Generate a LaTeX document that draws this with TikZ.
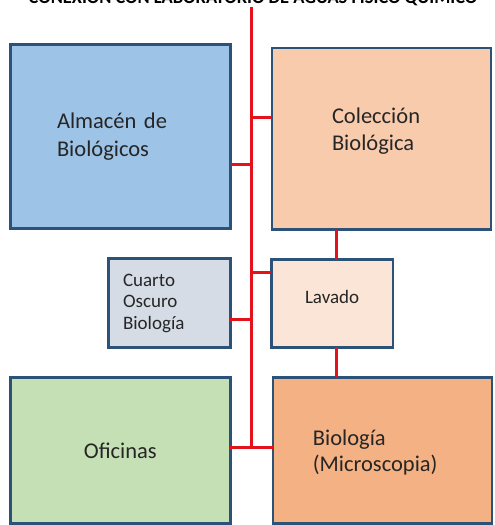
\documentclass[tikz,border=0pt]{standalone}
\usepackage{fontspec}
\setmainfont{Carlito}
\usetikzlibrary{positioning}

\definecolor{borde}{HTML}{2D5278}
\definecolor{rojo}{HTML}{E3121B}
\definecolor{azul}{HTML}{9DC3E6}
\definecolor{salmon}{HTML}{F8CBAD}
\definecolor{rosa}{HTML}{FBE5D6}
\definecolor{gris}{HTML}{D6DCE5}
\definecolor{verde}{HTML}{C5E0B4}
\definecolor{naranja}{HTML}{F4B183}

\tikzset{
  sala/.style={draw=borde, line width=2.5pt, rectangle, outer sep=0pt, anchor=north west, text=black!85},
  conexion/.style={draw=rojo, line width=3pt}
}

\begin{document}
\begin{tikzpicture}[x=1pt, y=-1pt]
    \useasboundingbox (0,0) rectangle (495,525);

    \node[font=\bfseries\fontsize{18.4}{22}\selectfont, anchor=base] (titulo) at (253,3.5) {CONEXIÓN CON LABORATORIO DE AGUAS FÍSICO QUÍMICO};

        \node[sala, fill=azul, minimum width=220pt, minimum height=184pt, text width=127pt, inner xsep=46.5pt, align=left, font=\fontsize{22.5}{28}\selectfont] (almacen) at (10.5,44.5) {Almacén de\\Biológicos};
        \node[sala, fill=salmon, minimum width=219pt, minimum height=181.7pt, text width=99pt, inner xsep=60pt, text depth=47pt, align=left, font=\fontsize{22.5}{27}\selectfont] (coleccion) at ([xshift=41.5pt, yshift=-3.5pt]almacen.north east) {Colección\\Biológica};

        \node[sala, fill=gris, minimum width=121.8pt, minimum height=88.8pt, text width=93pt, inner xsep=14.4pt, align=left, font=\fontsize{19}{21.5}\selectfont] (cuarto) at (108.6,258.6) {Cuarto\\Oscuro\\Biología};
        \node[sala, fill=rosa, minimum width=121.4pt, minimum height=87.8pt, text depth=14pt, font=\fontsize{19}{22}\selectfont] (lavado) at ([xshift=41pt, yshift=-1pt]cuarto.north east) {Lavado};

        \node[sala, fill=verde, minimum width=220pt, minimum height=146.2pt, font=\fontsize{22.5}{26}\selectfont] (oficinas) at (10.3,377.3) {Oficinas};
        \node[sala, fill=naranja, minimum width=219pt, minimum height=146.2pt, text width=139pt, inner xsep=40pt, text depth=26pt, align=left, font=\fontsize{22.5}{26}\selectfont] (biologia) at ([xshift=42.6pt]oficinas.north east) {Biología\\(Microscopia)};

    % espina roja
    \coordinate (espina) at (251.7,7);
    \coordinate (nudo) at (251.7,447.3);
        \draw[conexion] (espina) -- (nudo);

        \draw[conexion] (almacen.east |- 0,164) -- (espina |- 0,164);
        \draw[conexion] (espina |- 0,117.3) -- (coleccion.west |- 0,117.3);
        \draw[conexion] (espina |- 0,272.3) -- (lavado.west |- 0,272.3);
        \draw[conexion] (cuarto.east |- 0,319) -- (espina |- 0,319);
        \draw[conexion] (oficinas.east |- nudo) -- (biologia.west |- nudo);

        \draw[conexion] (coleccion.south -| 336,0) -- (lavado.north -| 336,0);
        \draw[conexion] (lavado.south -| 336,0) -- (biologia.north -| 336,0);

    \end{tikzpicture}
\end{document}
